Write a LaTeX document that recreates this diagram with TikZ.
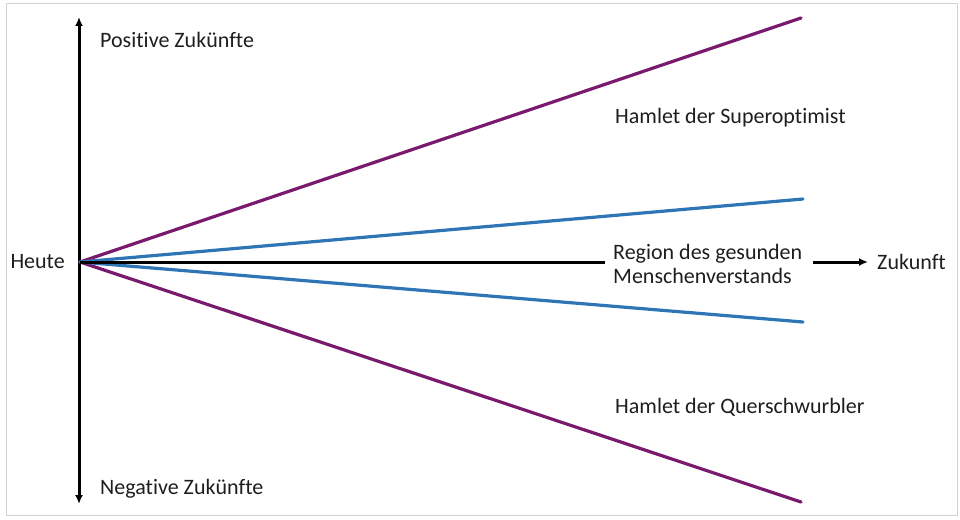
\documentclass[tikz,border=0pt]{standalone}
\usepackage{fontspec}
\setmainfont{Carlito}[Ligatures={NoCommon,NoRequired,NoContextual}]
\usetikzlibrary{arrows.meta}
\definecolor{lila}{HTML}{7A1A6E}
\definecolor{blau}{HTML}{2E75B6}
\definecolor{schrift}{HTML}{1E1E1E}
\begin{document}
\begin{tikzpicture}[x=1pt,y=-1pt,
  txt/.style={inner sep=0pt,text=schrift,font=\fontsize{22}{24}\selectfont},
  achse/.style={black,line width=3pt},
  spitze/.style={-{Latex[length=9pt,width=8pt]}},
  szen/.style={line width=3.2pt,line cap=round}]
\useasboundingbox (0,0) rectangle (960,519);
\draw [gray!35,line width=1pt] (6,4) rectangle (957,515);
% Achsen
\coordinate (o) at (80,262);
\coordinate (oben) at (79,17);
\coordinate (unten) at (79,504);
\draw [achse,{Latex[length=9pt,width=8pt]}-{Latex[length=9pt,width=8pt]}] (oben) -- (unten);
\node [txt,anchor=east] (heute) at (65,262) {Heute};
\node [txt,anchor=west] (pos) at (100,40) {Positive Zukünfte};
\node [txt,anchor=west] (neg) at (100,489) {Negative Zukünfte};
% Szenarien
\coordinate (p1) at (801,18);
\coordinate (p2) at (801,502);
\coordinate (b1) at (803,199);
\coordinate (b2) at (803,322);
\draw [szen,lila] (o) -- (p1);
\draw [szen,lila] (o) -- (p2);
\draw [szen,blau] (o) -- (b1);
\draw [szen,blau] (o) -- (b2);
\node [txt,anchor=west,align=left] (region) at (613,264) {Region des gesunden\\Menschenverstands};
\draw [achse] (o) -- ([xshift=-8pt]region.west |- o);
\node [txt,anchor=west] (zukunft) at (877,262) {Zukunft};
\draw [achse,spitze] ([xshift=11pt]region.east |- zukunft.west) -- ([xshift=-9pt]zukunft.west);
\node [txt,anchor=west] (super) at (615,118) {Hamlet der Superoptimist};
\node [txt,anchor=west] (quer) at (615,407) {Hamlet der Querschwurbler};
\end{tikzpicture}
\end{document}
